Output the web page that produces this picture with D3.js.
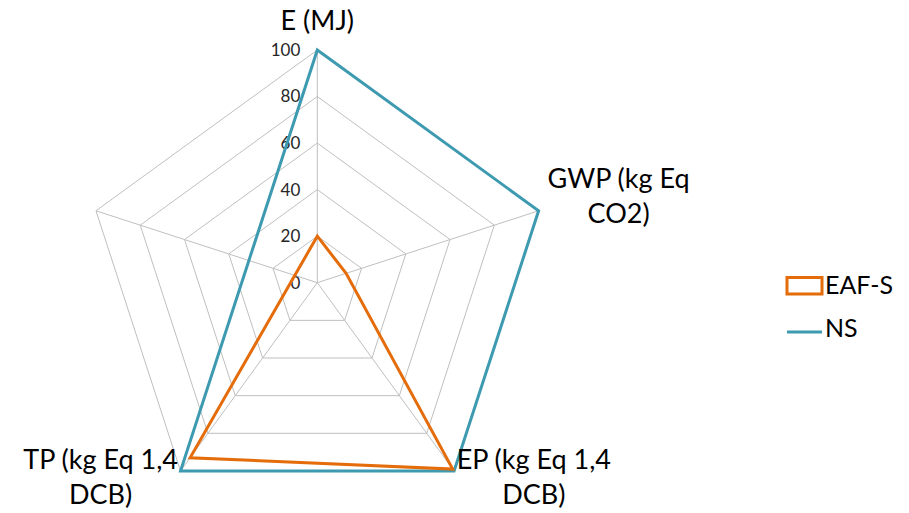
<!DOCTYPE html>
<html>
<head>
<meta charset="utf-8">
<script src="https://cdn.jsdelivr.net/npm/d3@7"></script>
<style>
	body { margin: 0; background: #fff; }
	text { font-family: Lato, "Open Sans", sans-serif; fill: #000; }
</style>
</head>
<body>
<script>
// chart data
const categories = ['E (MJ)', 'GWP (kg Eq CO2)', 'EP (kg Eq 1,4 DCB)', 'TP (kg Eq 1,4 DCB)', ''];
const labelLines = [['E (MJ)'], ['GWP (kg Eq', 'CO2)'], ['EP (kg Eq 1,4', 'DCB)'], ['TP (kg Eq 1,4', 'DCB)'], []];
const seriesNames = ['EAF-S', 'NS'];
const eafS = [20, 13, 99, 93, null];
const ns = [100, 100, 100, 100, null];
const ticks = [0, 20, 40, 60, 80, 100];

let width = 909;
let height = 513;
let cx = 317.3;
let cy = 282.7;
let R = 232.7;

let svg = d3.select('body').append('svg')
	.attr('width', width)
	.attr('height', height);

let r = d3.scaleLinear().domain([0, 100]).range([0, R]);
let angle = d3.scalePoint().domain(d3.range(categories.length + 1)).range([0, 2 * Math.PI]);

let g = svg.append('g')
	.attr('transform', 'translate(' + cx + ', ' + cy + ')');

function pt(i, v) {
	let a = angle(i);
	return [Math.sin(a) * r(v), -Math.cos(a) * r(v)];
}

// grid rings
for (let t of ticks) {
	if (t === 0) continue;
	g.append('path')
		.attr('d', d3.line()(categories.map((c, i) => pt(i, t))) + 'Z')
		.style('fill', 'none')
		.style('stroke', '#bfbfbf')
		.style('stroke-width', 1);
}

// spokes
categories.forEach((c, i) => {
	let p = pt(i, 100);
	g.append('line')
		.attr('x1', 0).attr('y1', 0)
		.attr('x2', p[0]).attr('y2', p[1])
		.style('stroke', '#bfbfbf')
		.style('stroke-width', 1);
});

// tick labels on the first axis
g.selectAll('.tick-label')
	.data(ticks)
	.enter().append('text')
	.attr('class', 'tick-label')
	.attr('x', -17)
	.attr('y', d => -r(d))
	.attr('dy', '0.35em')
	.attr('text-anchor', 'end')
	.style('font-size', '17px')
	.style('fill', '#262626')
	.text(d => d);

// series
let colors = ['#e46c0a', '#3d9ab0'];
let paths = [];
[eafS, ns].forEach((vals, k) => {
	let pts = [];
	vals.forEach((v, i) => { if (v !== null) pts.push([angle(i), r(v)]); });
	paths.push(g.append('path')
		.attr('d', d3.lineRadial().curve(d3.curveLinearClosed)(pts))
		.style('fill', 'none')
		.style('stroke', colors[k])
		.style('stroke-width', 3)
		.style('stroke-linejoin', 'miter'));
});
paths[0].raise();

// category labels
let lineH = 35;
labelLines.forEach((lines, i) => {
	if (!lines.length) return;
	let a = angle(i);
	let ax = Math.sin(a) * (R + 18);
	let ay = -Math.cos(a) * (R + 18);
	let lab = g.append('text').style('font-size', '27px').attr('text-anchor', 'middle');
	let spans = lines.map((l, j) => lab.append('tspan').text(l));
	let w = d3.max(spans, s => s.node().getComputedTextLength());
	let bx = ax;
	if (Math.sin(a) > 0.1) bx = ax + w / 2 - 8;
	else if (Math.sin(a) < -0.1) bx = ax - w / 2 + 8;
	let firstBase;
	if (Math.abs(Math.sin(a)) <= 0.1) firstBase = ay - 2 - (lines.length - 1) * lineH;
	else firstBase = ay - (lines.length * lineH) / 2 + 18;
	spans.forEach((s, j) => s.attr('x', bx).attr('y', firstBase + j * lineH));
});

// legend
let lg = svg.append('g');
lg.append('rect')
	.attr('x', 787).attr('y', 277.5)
	.attr('width', 35).attr('height', 16.5)
	.style('fill', 'none')
	.style('stroke', colors[0])
	.style('stroke-width', 3);
lg.append('line')
	.attr('x1', 787).attr('x2', 822)
	.attr('y1', 332).attr('y2', 332)
	.style('stroke', colors[1])
	.style('stroke-width', 3);
lg.selectAll('.legend-label')
	.data(seriesNames)
	.enter().append('text')
	.attr('class', 'legend-label')
	.attr('x', 825)
	.attr('y', (d, i) => 294 + i * 43)
	.style('font-size', '25px')
	.text(d => d);
</script>
</body>
</html>
